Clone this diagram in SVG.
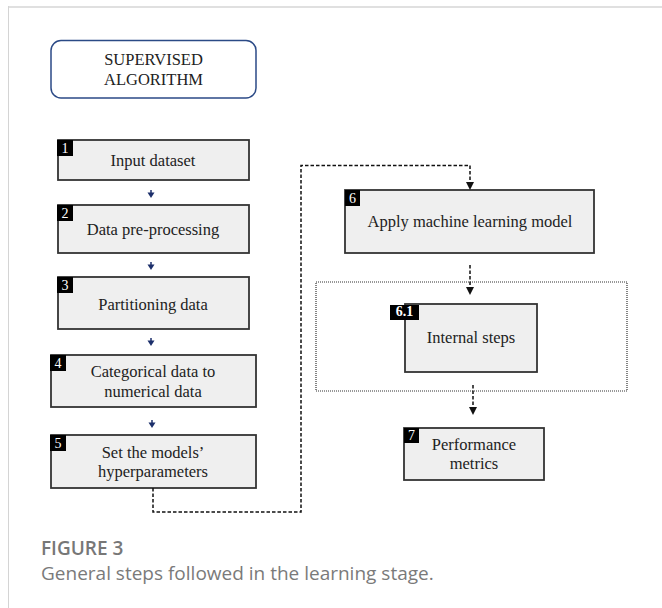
<svg xmlns="http://www.w3.org/2000/svg" width="662" height="608" viewBox="0 0 662 608">
<style>
.box{fill:#efefef;stroke:#333;stroke-width:1.8}
.t{font-family:"Liberation Serif","Times New Roman",serif;font-size:16.5px;fill:#222;text-anchor:middle}
.badge{fill:#000}
.bt{font-family:"Liberation Serif",serif;font-size:14px;fill:#fff;text-anchor:middle}
.dash{fill:none;stroke:#111;stroke-width:1.5;stroke-dasharray:3.5,2}
.dot{fill:none;stroke:#333;stroke-width:1.2;stroke-dasharray:1,1}
.blue{stroke:#1c2f6b;stroke-width:1.5}
.cap{font-family:"Open Sans",sans-serif;font-size:19px}
</style>
<rect width="662" height="608" fill="#fff"/>
<line x1="8" y1="7" x2="662" y2="7" stroke="#e0e0e0" stroke-width="2"/>
<line x1="8.5" y1="6" x2="8.5" y2="608" stroke="#d4d4d4" stroke-width="1"/>

<g id="title">
<rect x="51" y="40.5" width="205" height="57.5" rx="10" fill="#fff" stroke="#2b4a86" stroke-width="1.5"/>
<text class="t" x="153.5" y="65">SUPERVISED</text>
<text class="t" x="153.5" y="85">ALGORITHM</text>
</g>

<g id="n1">
<rect class="box" x="58" y="140" width="191" height="40"/>
<rect class="badge" x="57" y="140" width="16" height="16"/>
<text class="bt" x="65" y="153">1</text>
<text class="t" x="153" y="166">Input dataset</text>
</g>
<g id="n2">
<rect class="box" x="58" y="205" width="191" height="48"/>
<rect class="badge" x="57" y="205" width="16" height="16"/>
<text class="bt" x="65" y="218">2</text>
<text class="t" x="153" y="235">Data pre-processing</text>
</g>
<g id="n3">
<rect class="box" x="58" y="277" width="191" height="52"/>
<rect class="badge" x="57" y="277" width="16" height="16"/>
<text class="bt" x="65" y="290">3</text>
<text class="t" x="153" y="310">Partitioning  data</text>
</g>
<g id="n4">
<rect class="box" x="51" y="355" width="205" height="52"/>
<rect class="badge" x="50" y="355" width="16" height="16"/>
<text class="bt" x="58" y="368">4</text>
<text class="t" x="153" y="377">Categorical  data to</text>
<text class="t" x="153" y="397">numerical  data</text>
</g>
<g id="n5">
<rect class="box" x="51" y="435" width="205" height="53"/>
<rect class="badge" x="50" y="435" width="16" height="16"/>
<text class="bt" x="58" y="448">5</text>
<text class="t" x="153" y="458">Set the models’</text>
<text class="t" x="153" y="477">hyperparameters</text>
</g>
<g id="n6">
<rect class="box" x="345" y="190" width="249" height="63"/>
<rect class="badge" x="345" y="190" width="15" height="16"/>
<text class="bt" x="352.5" y="203">6</text>
<text class="t" x="470" y="227">Apply machine learning  model</text>
</g>
<g id="g61">
<rect class="dot" x="316" y="282" width="311" height="109"/>
</g>
<g id="n61">
<rect class="box" x="405" y="304" width="132" height="68"/>
<rect class="badge" x="390" y="305" width="29" height="15"/>
<text class="bt" x="404.5" y="316" font-size="7" font-weight="bold">6.1</text>
<text class="t" x="471" y="343">Internal steps</text>
</g>
<g id="n7">
<rect class="box" x="404" y="428" width="140" height="52"/>
<rect class="badge" x="404" y="428" width="15" height="15"/>
<text class="bt" x="411.5" y="440">7</text>
<text class="t" x="474" y="450">Performance</text>
<text class="t" x="474" y="469">metrics</text>
</g>

<g id="connectors">
<g class="blue" fill="#1c2f6b">
<line x1="151" y1="190" x2="151" y2="194"/><path d="M147.5,192.5 L154.5,192.5 L151,198 Z" stroke="none"/>
<line x1="151" y1="262" x2="151" y2="266"/><path d="M147.5,264.5 L154.5,264.5 L151,270 Z" stroke="none"/>
<line x1="151" y1="338" x2="151" y2="342"/><path d="M147.5,340.5 L154.5,340.5 L151,346 Z" stroke="none"/>
<line x1="152" y1="420" x2="152" y2="424"/><path d="M148.5,422.5 L155.5,422.5 L152,428 Z" stroke="none"/>
</g>
<path class="dash" d="M153,488 V512 H301 V165.5 H470 V183"/>
<path d="M466,182 L474,182 L470,190 Z" fill="#111"/>
<path class="dash" d="M470,265 V288"/>
<path d="M466,287 L474,287 L470,295 Z" fill="#111"/>
<path class="dash" d="M473,385 V408"/>
<path d="M469,407 L477,407 L473,415 Z" fill="#111"/>
</g>

<g id="caption">
<text class="cap" x="41" y="555" font-weight="600" fill="#777">FIGURE 3</text>
<text class="cap" x="41" y="580" fill="#7a7a7a">General steps followed in the learning stage.</text>
</g>
</svg>
